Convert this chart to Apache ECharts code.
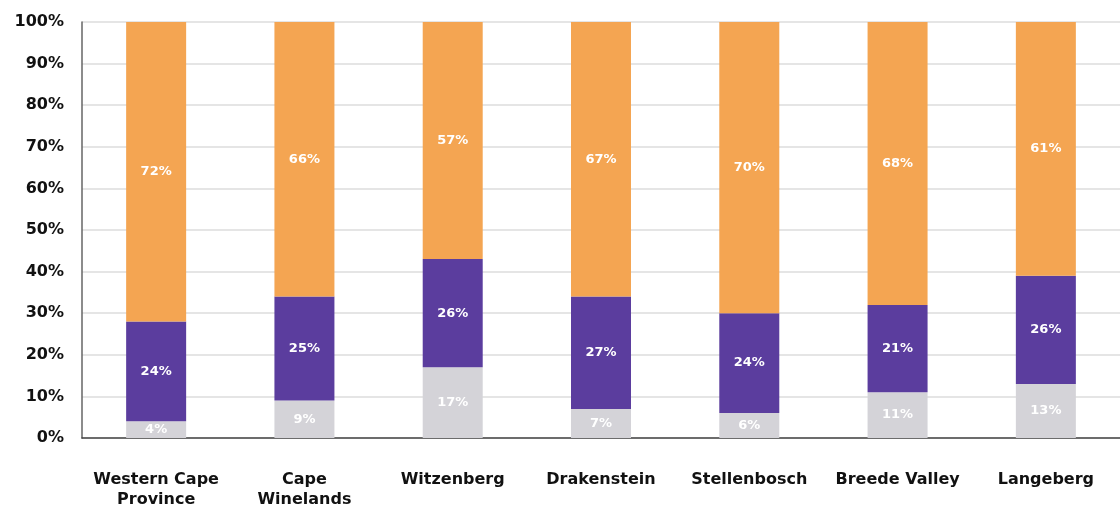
<!DOCTYPE html>
<html>
<head>
<meta charset="utf-8">
<script src="https://cdn.jsdelivr.net/npm/echarts@6/dist/echarts.min.js"></script>
<style>
  html, body { margin: 0; padding: 0; background: #fff; }
  #chart { width: 1120px; height: 510px; }
</style>
</head>
<body>
<div id="chart"></div>
<script>
// categories and shares (%)
const categories = ['Western Cape\nProvince', 'Cape\nWinelands', 'Witzenberg', 'Drakenstein', 'Stellenbosch', 'Breede Valley', 'Langeberg'];
const greyVals   = [4, 9, 17, 7, 6, 11, 13];
const purpleVals = [24, 25, 26, 27, 24, 21, 26];
const orangeVals = [72, 66, 57, 67, 70, 68, 61];
const yTicks = [0, 10, 20, 30, 40, 50, 60, 70, 80, 90, 100];

const font = 'DejaVu Sans, Arial, sans-serif';

function seg(name, data, color) {
  return {
    name: name,
    type: 'bar',
    stack: 'all',
    barWidth: 60,
    data: data,
    itemStyle: { color: color },
    label: {
      show: true,
      position: 'inside',
      formatter: '{c}%',
      color: '#fff',
      fontFamily: font,
      fontWeight: 'bold',
      fontSize: 13
    }
  };
}

const chart = echarts.init(document.getElementById('chart'));
chart.setOption({
  animation: false,
  grid: { left: 82, top: 22, width: 1043, bottom: 68 },
  xAxis: {
    type: 'category',
    data: categories,
    axisTick: { show: false },
    axisLine: { lineStyle: { color: '#444', width: 1.5 } },
    axisLabel: {
      margin: 32,
      color: '#111',
      fontFamily: font,
      fontWeight: 'bold',
      fontSize: 16,
      lineHeight: 20,
      interval: 0
    }
  },
  yAxis: {
    type: 'value',
    min: yTicks[0],
    max: yTicks[yTicks.length - 1],
    interval: 10,
    axisLine: { show: true, lineStyle: { color: '#666', width: 1.5 } },
    axisTick: { show: false },
    splitLine: { lineStyle: { color: '#dcdcdc', width: 1.5 } },
    axisLabel: {
      margin: 18,
      color: '#111',
      fontFamily: font,
      fontWeight: 'bold',
      fontSize: 16,
      formatter: '{value}%'
    }
  },
  series: [
    seg('Grey', greyVals, '#d4d3d8'),
    seg('Purple', purpleVals, '#5b3d9e'),
    seg('Orange', orangeVals, '#f4a552')
  ]
});
</script>
</body>
</html>
